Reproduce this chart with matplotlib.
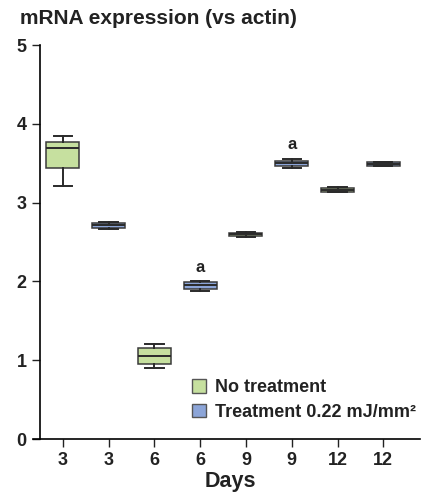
import matplotlib
matplotlib.use('Agg')
import matplotlib.pyplot as plt
from matplotlib.patches import Patch

plt.rcParams['font.family'] = ['Liberation Sans', 'DejaVu Sans']

# Box statistics (in group order)
day_labels = ['3', '3', '6', '6', '9', '9', '12', '12']
groups = ['none', 'treat', 'none', 'treat', 'none', 'treat', 'none', 'treat']
whislo = [3.21, 2.66, 0.90, 1.88, 2.56, 3.44, 3.13, 3.46]
q1 = [3.44, 2.68, 0.95, 1.91, 2.575, 3.46, 3.14, 3.47]
med = [3.69, 2.715, 1.05, 1.95, 2.60, 3.50, 3.165, 3.49]
q3 = [3.77, 2.74, 1.15, 1.99, 2.62, 3.53, 3.19, 3.51]
whishi = [3.85, 2.75, 1.20, 2.00, 2.63, 3.55, 3.20, 3.52]
sig_marks = {3: 2.18, 5: 3.74}  # index -> y of the "a" label

colors = {'none': '#c6e09f', 'treat': '#8ca5d8'}
legend_names = {'none': 'No treatment', 'treat': 'Treatment 0.22 mJ/mm\u00b2'}

fig = plt.figure(figsize=(4.25, 4.93), dpi=100)
ax = fig.add_axes([0.094, 0.1095, 0.894, 0.7992])

stats = []
for i in range(len(med)):
    stats.append({'med': med[i], 'q1': q1[i], 'q3': q3[i],
                  'whislo': whislo[i], 'whishi': whishi[i], 'fliers': []})

positions = list(range(1, len(med) + 1))
bp = ax.bxp(stats, positions=positions, widths=0.72, patch_artist=True,
            showfliers=False,
            boxprops=dict(edgecolor='#3a3a3a', linewidth=1.1),
            medianprops=dict(color='#2a2a2a', linewidth=1.4),
            whiskerprops=dict(color='#2a2a2a', linewidth=1.4),
            capprops=dict(color='#2a2a2a', linewidth=1.4),
            capwidths=0.4)
for patch, g in zip(bp['boxes'], groups):
    patch.set_facecolor(colors[g])

for idx, y in sig_marks.items():
    ax.text(positions[idx], y, 'a', ha='center', va='center',
            fontsize=12, fontweight='bold', color='#222222')

ax.set_xlim(0.5, 8.8)
ax.set_ylim(0, 5)
ax.set_yticks([0, 1, 2, 3, 4, 5])
ax.set_xticks(positions)
ax.set_xticklabels(day_labels)
ax.tick_params(axis='both', labelsize=13, length=6, width=1, color='#222222',
               labelcolor='#222222')
for lab in ax.get_xticklabels() + ax.get_yticklabels():
    lab.set_fontweight('bold')
ax.spines['top'].set_visible(False)
ax.spines['right'].set_visible(False)
ax.spines['left'].set_linewidth(1.2)
ax.spines['bottom'].set_linewidth(1.2)
ax.spines['bottom'].set_bounds(0.35, 8.8)

ax.set_xlabel('Days', fontsize=15.5, fontweight='bold', color='#222222', labelpad=1)
fig.text(0.047, 0.963, 'mRNA expression (vs actin)', fontsize=15,
         fontweight='bold', color='#222222', va='center', ha='left')

handles = [Patch(facecolor=colors[g], edgecolor='#555555', label=legend_names[g])
           for g in ['none', 'treat']]
leg = ax.legend(handles=handles, loc='upper left', bbox_to_anchor=(0.38, 0.17),
                frameon=False, fontsize=13, handlelength=0.8, handleheight=0.8,
                handletextpad=0.5, labelspacing=0.4, borderaxespad=0)
for t in leg.get_texts():
    t.set_fontweight('bold')
    t.set_color('#222222')

fig.savefig('out.png', dpi=100)
